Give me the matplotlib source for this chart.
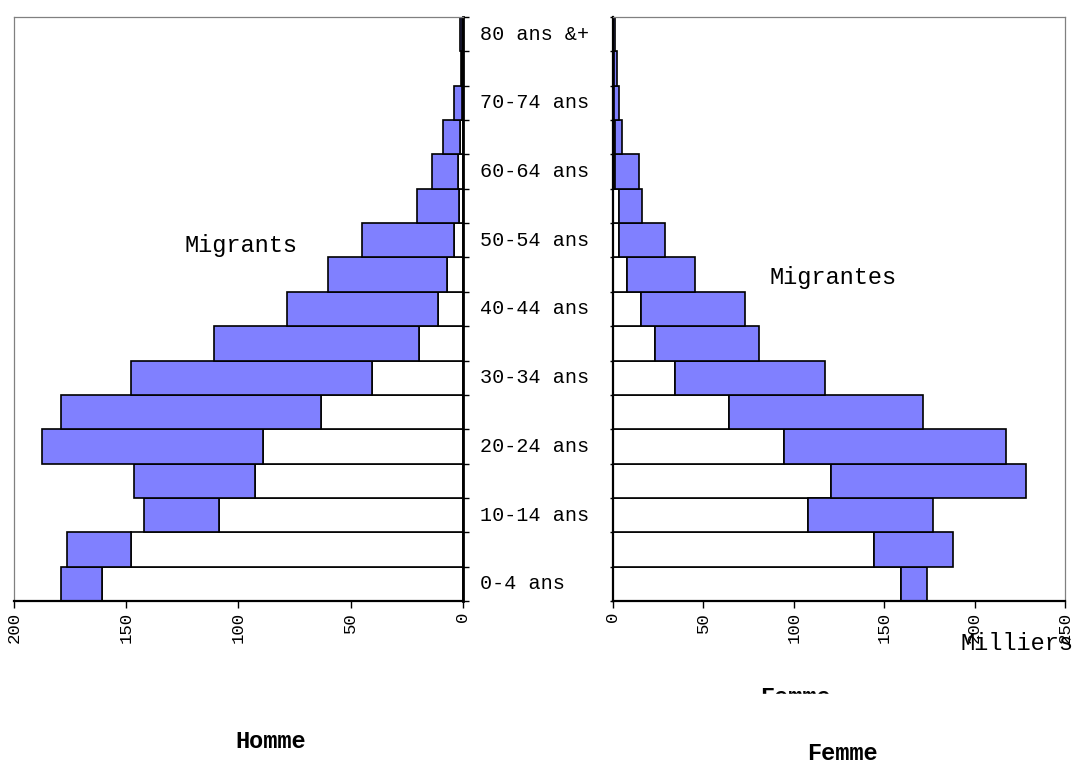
import matplotlib.pyplot as plt
import matplotlib.patches as mpatches
import numpy as np

# tranches d'age, de bas en haut
ages = ['0-4 ans', '5-9 ans', '10-14 ans', '15-19 ans', '20-24 ans', '25-29 ans',
        '30-34 ans', '35-39 ans', '40-44 ans', '45-49 ans', '50-54 ans', '55-59 ans',
        '60-64 ans', '65-69 ans', '70-74 ans', '75-79 ans', '80 ans &+']

# milliers : partie blanche (non migrants) et total
homme_base = [161.0, 147.9, 108.9, 92.8, 89.1, 63.4, 40.4, 19.8, 11.1,
              7.2, 4.2, 1.8, 2.1, 1.2, 0.5, 0.3, 0.4]
homme_total = [179.1, 176.5, 142.1, 146.5, 187.4, 179.0, 147.7, 110.8, 78.4,
               60.2, 45.2, 20.3, 13.8, 8.8, 4.1, 1.0, 1.3]
femme_base = [159.1, 144.3, 107.8, 120.4, 94.4, 64.3, 34.4, 23.0, 15.4,
              7.6, 3.5, 3.5, 0.9, 0.9, 0.4, 0.3, 0.2]
femme_total = [173.5, 187.8, 176.9, 228.7, 217.2, 171.7, 117.2, 80.7, 72.8,
               45.2, 28.9, 16.1, 14.3, 5.2, 3.5, 2.2, 1.3]

blue = '#8080FF'
mono = 'Liberation Mono'
W, H = 1076, 765

fig = plt.figure(figsize=(W / 100, H / 100), dpi=100)
axL = fig.add_axes([14 / W, 1 - 601 / H, 449 / W, 584 / H])
axR = fig.add_axes([613 / W, 1 - 601 / H, 452 / W, 584 / H])

y = np.arange(len(ages))
edges = np.arange(len(ages) + 1) - 0.5


def draw(ax, base, total):
    base = np.array(base)
    total = np.array(total)
    ax.barh(y, base, height=1.0, color='white', edgecolor='black', linewidth=1.2)
    ax.barh(y, total - base, left=base, height=1.0, color=blue,
            edgecolor='black', linewidth=1.2)
    ax.set_ylim(-0.5, len(ages) - 0.5)
    ax.set_yticks(edges)
    ax.set_yticklabels([])
    for s in ax.spines.values():
        s.set_color('#808080')
        s.set_linewidth(0.9)
    ax.spines['bottom'].set_color('black')
    ax.spines['bottom'].set_linewidth(1.6)
    ax.tick_params(axis='x', direction='out', length=5, width=1, pad=3,
                   labelsize=12.5, labelrotation=90)


# Homme
draw(axL, homme_base, homme_total)
axL.set_xlim(200, 0)
axL.set_xticks([200, 150, 100, 50, 0])
axL.set_xticklabels(['200', '150', '100', '50', '0'], family=mono, rotation=90)
axL.yaxis.tick_right()
axL.spines['right'].set_color('black')
axL.spines['right'].set_linewidth(2.0)
axL.tick_params(axis='y', direction='out', length=4, width=1)
for i in range(0, len(ages), 2):
    axL.annotate(ages[i], xy=(1, i), xycoords=('axes fraction', 'data'),
                 xytext=(12, 0), textcoords='offset points', va='center',
                 ha='left', fontsize=14.5, family=mono)
axL.text(99, 9.86, 'Migrants', fontsize=17, family=mono, ha='center', va='center')

# Femme
draw(axR, femme_base, femme_total)
axR.set_xlim(0, 250)
axR.set_xticks([0, 50, 100, 150, 200, 250])
axR.set_xticklabels(['0', '50', '100', '150', '200', '250'], family=mono, rotation=90)
axR.spines['left'].set_color('black')
axR.spines['left'].set_linewidth(1.6)
axR.tick_params(axis='y', direction='out', length=2, width=1)
axR.text(121.7, 8.93, 'Migrantes', fontsize=17, family=mono, ha='center', va='center')

fig.text(1017 / W, 1 - 644 / H, 'Milliers', fontsize=17, family=mono,
         ha='center', va='center')
fig.text(271 / W, 1 - 742 / H, 'Homme', fontsize=17, family=mono,
         fontweight='bold', ha='center', va='center')
fig.text(842 / W, 1 - 754 / H, 'Femme', fontsize=17, family=mono,
         fontweight='bold', ha='center', va='center')
# titre "Femme" coupe par le cadre du graphique
fig.text(795 / W, 1 - 698 / H, 'Femme', fontsize=17, family=mono,
         fontweight='bold', ha='center', va='center')
fig.patches.append(mpatches.Rectangle((740 / W, 1 - 715 / H), 110 / W, 21 / H,
                                      transform=fig.transFigure, color='white',
                                      zorder=10))

fig.savefig('out.png', dpi=100)
